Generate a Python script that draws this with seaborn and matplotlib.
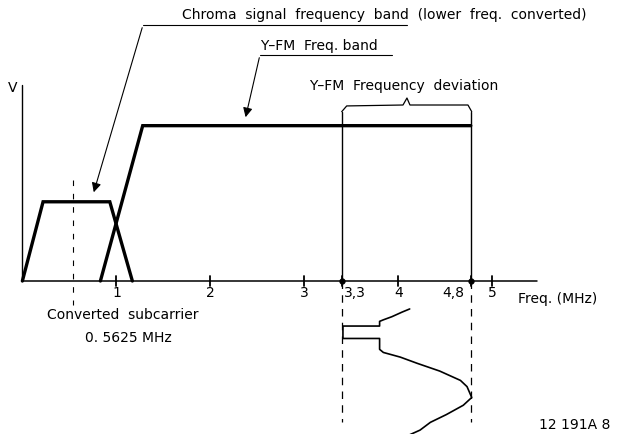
import matplotlib
matplotlib.use("Agg")
import matplotlib.pyplot as plt
import numpy as np
import pandas as pd
import seaborn as sns

sns.set_theme(style="white")
plt.rcParams["font.family"] = ["DejaVu Sans"]
plt.rcParams["text.color"] = "black"

# spectrum shapes (freq in MHz, relative level)
chroma_freq = [0.0, 0.22, 0.93, 1.17]
chroma_level = [0.0, 0.51, 0.51, 0.0]
yfm_freq = [0.83, 1.28, 4.77]
yfm_level = [0.0, 1.0, 1.0]

# deviation sweep drawn under the axis
sweep_freq = [4.12, 4.04, 3.93, 3.84, 3.80, 3.80, 3.41, 3.41, 3.80, 3.80, 3.84,
              4.02, 4.20, 4.44, 4.66, 4.73, 4.78, 4.69, 4.51, 4.34, 4.23, 4.12]
sweep_level = [-0.18, -0.20, -0.23, -0.25, -0.26, -0.29, -0.29, -0.37, -0.37,
               -0.44, -0.46, -0.49, -0.53, -0.58, -0.64, -0.68, -0.75, -0.80,
               -0.86, -0.91, -0.96, -0.99]

tick_pos = [1, 2, 3, 3.4, 4, 4.77, 5]
tick_labels = ["1", "2", "3", "3,3", "4", "4,8", "5"]
subcarrier = 0.5625
dev_lo, dev_hi = 3.4, 4.77

fig = plt.figure(figsize=(6.18, 4.34), dpi=100)
ax = fig.add_axes([0, 0, 1, 1])
ax.set_xlim(-0.238, 6.336)
ax.set_ylim(-0.985, 1.809)
ax.axis("off")

thick = dict(color="black", linewidth=2.4, solid_joinstyle="miter")
sns.lineplot(x=chroma_freq, y=chroma_level, sort=False, estimator=None, ax=ax, **thick)
sns.lineplot(x=yfm_freq, y=yfm_level, sort=False, estimator=None, ax=ax, **thick)
sns.lineplot(x=sweep_freq, y=sweep_level, sort=False, estimator=None, ax=ax,
             color="black", linewidth=1.2)

# axes
ax.plot([0, 5.47], [0, 0], color="black", linewidth=1.1)
ax.plot([0, 0], [0, 1.26], color="black", linewidth=1.0)
for t in tick_pos:
    ax.plot([t, t], [-0.03, 0.03], color="black", linewidth=1.3)
ax.plot([dev_lo, dev_hi], [0, 0], "o", color="black", markersize=3.5)

# deviation limits
for x in (dev_lo, dev_hi):
    ax.plot([x, x], [0, 1.09], color="black", linewidth=1.0)
    ax.plot([x, x], [0, -0.91], color="black", linewidth=0.9, dashes=(6, 5))
ax.plot([subcarrier - 0.02] * 2, [0.65, -0.155], color="black", linewidth=0.8,
        dashes=(5, 7))

# brace
brace_x = [3.397, 3.45, 4.049, 4.091, 4.123, 4.74, 4.78]
brace_y = [1.09, 1.127, 1.133, 1.178, 1.133, 1.133, 1.09]
ax.plot(brace_x, brace_y, color="black", linewidth=0.9)

fs = 10
ax.text(1.698, 1.713, "Chroma  signal  frequency  band  (lower  freq.  converted)",
        fontsize=fs, va="center", ha="left")
ax.plot([1.283, 4.091], [1.648, 1.648], color="black", linewidth=0.8)
ax.annotate("", xy=(0.751, 0.554), xytext=(1.283, 1.648),
            arrowprops=dict(arrowstyle="-|>", color="black", lw=0.8,
                            mutation_scale=14))

ax.text(2.527, 1.513, "Y\u2013FM  Freq. band", fontsize=fs, va="center", ha="left")
ax.plot([2.527, 3.932], [1.455, 1.455], color="black", linewidth=0.8)
ax.annotate("", xy=(2.368, 1.037), xytext=(2.527, 1.455),
            arrowprops=dict(arrowstyle="-|>", color="black", lw=0.8,
                            mutation_scale=14))

ax.text(4.06, 1.256, "Y\u2013FM  Frequency  deviation", fontsize=fs,
        va="center", ha="center")
ax.text(-0.1, 1.243, "V", fontsize=fs, va="center", ha="center")

for t, lab in zip(tick_pos, tick_labels):
    dx = 0
    if lab == "3,3":
        dx = 0.14
    elif lab == "4,8":
        dx = -0.19
    ax.text(t + dx, -0.077, lab, fontsize=fs, va="center", ha="center")

ax.text(5.272, -0.116, "Freq. (MHz)", fontsize=fs, va="center", ha="left")
ax.text(1.07, -0.219, "Converted  subcarrier", fontsize=fs, va="center", ha="center")
ax.text(1.123, -0.367, "0. 5625 MHz", fontsize=fs, va="center", ha="center")
ax.text(5.879, -0.927, "12 191A 8", fontsize=fs, va="center", ha="center")

fig.savefig("out.png", dpi=100, facecolor="white")
